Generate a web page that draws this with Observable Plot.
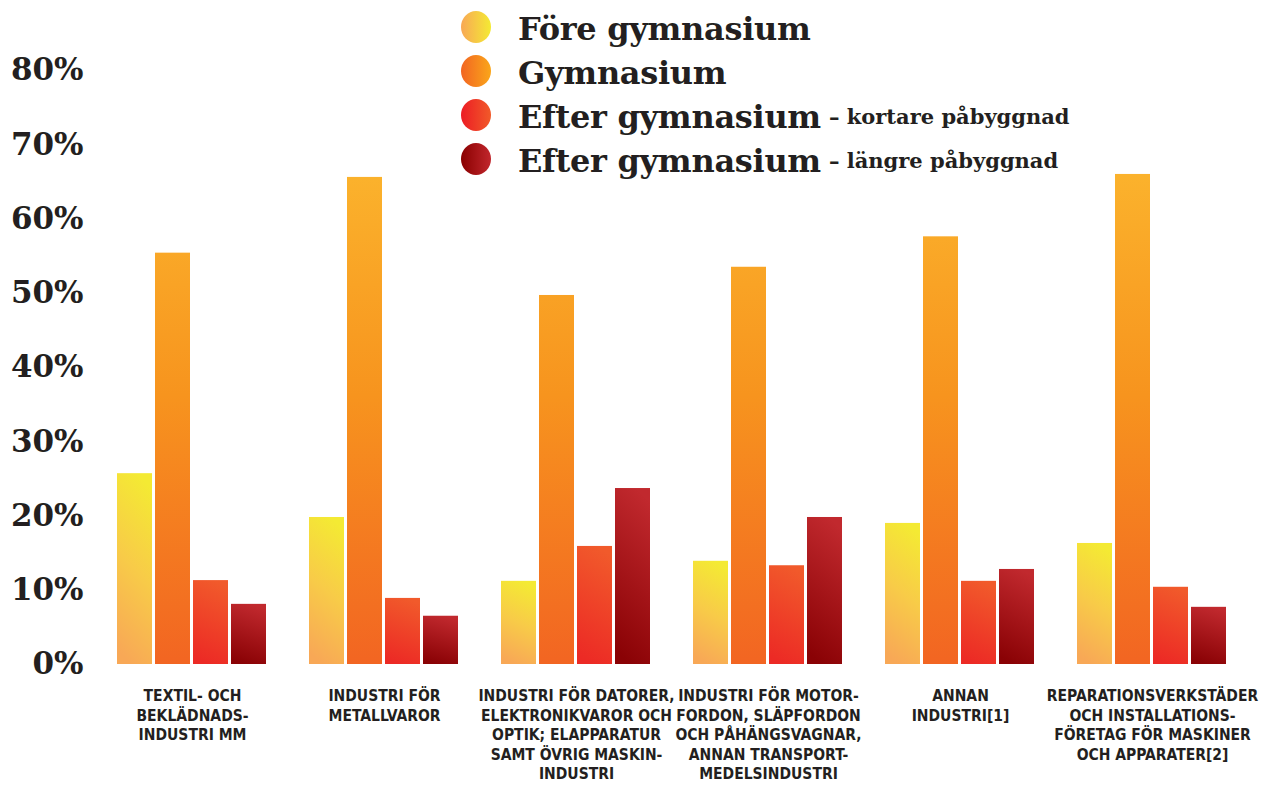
<!DOCTYPE html>
<html>
<head>
<meta charset="utf-8">
<script src="https://cdn.jsdelivr.net/npm/d3@7"></script>
<script src="https://cdn.jsdelivr.net/npm/@observablehq/plot@0.6"></script>
<style>
  html, body { margin: 0; padding: 0; background: #fff; overflow: hidden; }
  #wrap { position: relative; width: 1269px; height: 785px; }
  #legend { position: absolute; left: 461px; top: 6px; font-family: "DejaVu Serif", serif; font-weight: bold; color: #231f20; }
  .row { height: 44px; line-height: 44px; white-space: nowrap; }
  .dot { display: inline-block; width: 30px; height: 32px; border-radius: 50%; vertical-align: middle; margin-right: 27px; position: relative; top: -2px; }
  .main { font-size: 32px; vertical-align: middle; letter-spacing: -0.3px; }
  .sub { font-size: 21px; vertical-align: middle; margin-left: 8px; }
  svg text { fill: #231f20; }
</style>
</head>
<body>
<div id="wrap"><div id="legend"></div></div>
<script>
// ---- data ----
const categories = [
  "TEXTIL- OCH\nBEKLÄDNADS-\nINDUSTRI MM",
  "INDUSTRI FÖR\nMETALLVAROR",
  "INDUSTRI FÖR DATORER,\nELEKTRONIKVAROR OCH\nOPTIK; ELAPPARATUR\nSAMT ÖVRIG MASKIN-\nINDUSTRI",
  "INDUSTRI FÖR MOTOR-\nFORDON, SLÄPFORDON\nOCH PÅHÄNGSVAGNAR,\nANNAN TRANSPORT-\nMEDELSINDUSTRI",
  "ANNAN\nINDUSTRI[1]",
  "REPARATIONSVERKSTÄDER\nOCH INSTALLATIONS-\nFÖRETAG FÖR MASKINER\nOCH APPARATER[2]"
];
const series = ["Före gymnasium", "Gymnasium", "Efter gymnasium – kortare påbyggnad", "Efter gymnasium – längre påbyggnad"];
const legendMain = ["Före gymnasium", "Gymnasium", "Efter gymnasium", "Efter gymnasium"];
const legendSub = ["", "", "– kortare påbyggnad", "– längre påbyggnad"];
const foreGymnasium = [25.7, 19.8, 11.2, 13.9, 19.0, 16.3];
const gymnasium     = [55.4, 65.6, 49.7, 53.5, 57.6, 66.0];
const kortare       = [11.3, 8.9, 15.9, 13.3, 11.2, 10.4];
const langre        = [8.1, 6.5, 23.7, 19.8, 12.8, 7.7];
const yTicks = [0, 10, 20, 30, 40, 50, 60, 70, 80];

const seriesValues = [foreGymnasium, gymnasium, kortare, langre];
const data = [];
categories.forEach((c, i) => series.forEach((s, j) => data.push({cat: c, series: s, value: seriesValues[j][i]})));

const gradIds = ["g-fore", "g-gym", "g-kort", "g-lang"];

const chart = Plot.plot({
  width: 1269,
  height: 785,
  marginLeft: 113,
  marginRight: 39,
  marginTop: 70,
  marginBottom: 121,
  fx: {domain: categories, paddingInner: 0.21, paddingOuter: 0, label: null},
  x: {domain: series, paddingInner: 0.07, paddingOuter: 0, axis: null},
  y: {domain: [0, 80], label: null},
  color: {type: "ordinal", domain: series, range: gradIds.map(id => `url(#${id})`)},
  marks: [
    Plot.barY(data, {fx: "cat", x: "series", y: "value", fill: "series"}),
    Plot.axisY({ticks: yTicks, tickSize: 0, tickPadding: 33, tickFormat: d => d + "%", label: null,
      fontSize: 31, fontWeight: "bold", fontFamily: "DejaVu Serif"}),
    Plot.axisFx({anchor: "bottom", tickSize: 0, tickPadding: 23, label: null, lineHeight: 1.26,
      fontSize: 15.5, fontWeight: "bold", fontFamily: "DejaVu Sans Condensed, DejaVu Sans, sans-serif"})
  ]
});

// gradients
const NS = "http://www.w3.org/2000/svg";
const defs = document.createElementNS(NS, "defs");
const yScale = chart.scale("y");
function grad(id, stops, attrs) {
  const g = document.createElementNS(NS, "linearGradient");
  g.setAttribute("id", id);
  for (const [k, v] of Object.entries(attrs)) g.setAttribute(k, v);
  stops.forEach(([o, c]) => {
    const s = document.createElementNS(NS, "stop");
    s.setAttribute("offset", o);
    s.setAttribute("stop-color", c);
    g.appendChild(s);
  });
  defs.appendChild(g);
}
const vbox = {x1: "0.6", y1: "0", x2: "0.4", y2: "1"};
grad("g-fore", [[0, "#f4ea33"], [0.5, "#f8cb48"], [1, "#f8a856"]], vbox);
grad("g-gym", [[0, "#fbb22c"], [0.45, "#f7941e"], [1, "#f26522"]],
  {gradientUnits: "userSpaceOnUse", x1: 0, x2: 0, y1: yScale.apply(66), y2: yScale.apply(0)});
grad("g-kort", [[0, "#f15a2b"], [1, "#ec2a25"]], vbox);
grad("g-lang", [[0, "#c1292e"], [1, "#8a0205"]], vbox);
chart.insertBefore(defs, chart.firstChild);

document.getElementById("wrap").prepend(chart);

// legend
const dotBg = [
  "linear-gradient(to right, #f8a856, #f4ea33)",
  "linear-gradient(to right, #f26522, #faa61a)",
  "linear-gradient(to right, #ec1c24, #f15a29)",
  "linear-gradient(to right, #8a0000, #c1272d)"
];
const legend = document.getElementById("legend");
legendMain.forEach((m, i) => {
  const row = document.createElement("div");
  row.className = "row";
  const dot = document.createElement("span");
  dot.className = "dot";
  dot.style.background = dotBg[i];
  const t = document.createElement("span");
  t.className = "main";
  t.textContent = m;
  row.append(dot, t);
  if (legendSub[i]) {
    const s = document.createElement("span");
    s.className = "sub";
    s.textContent = legendSub[i];
    row.append(s);
  }
  legend.append(row);
});
</script>
</body>
</html>
